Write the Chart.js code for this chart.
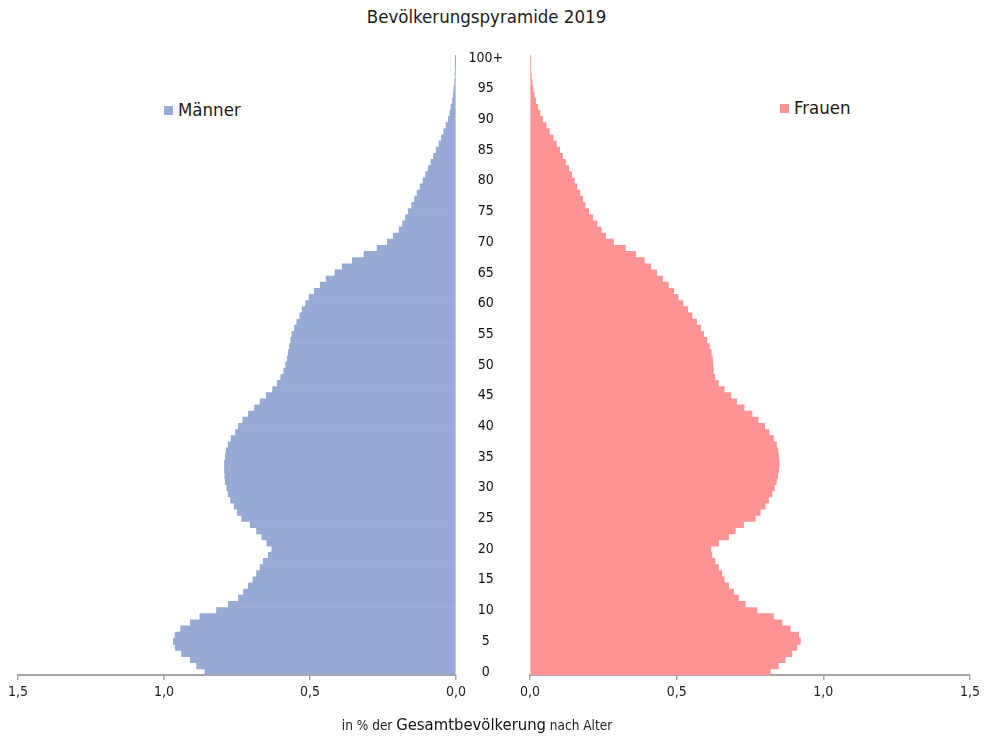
<!DOCTYPE html>
<html>
<head>
<meta charset="utf-8">
<script src="https://cdn.jsdelivr.net/npm/chart.js@4.4.1/dist/chart.umd.min.js"></script>
<style>
  html, body { margin: 0; padding: 0; background: #ffffff; }
  body { width: 985px; height: 739px; position: relative; overflow: hidden; font-family: "DejaVu Sans Condensed", "DejaVu Sans", sans-serif; color: #1a1a1a; }
  canvas { position: absolute; top: 0; }
  #cL { left: 0; }
  #cR { left: 456px; }
  .title { position: absolute; top: 6px; left: 0; width: 973px; text-align: center; font-size: 18.5px; }
  .leg { position: absolute; font-size: 18.5px; line-height: 22px; }
  .leg i { display: inline-block; width: 9px; height: 9px; margin-right: 5px; vertical-align: 1px; }
  .xt { position: absolute; top: 715px; left: 0; width: 954px; text-align: center; font-size: 13.5px; color: #222; }
  .xt b { font-weight: normal; font-size: 16.5px; color: #111; }
</style>
</head>
<body>
<div class="title">Bevölkerungspyramide 2019</div>
<div class="leg" id="legM" style="left:164px; top:99px;"><i style="background:#97A9D5"></i>Männer</div>
<div class="leg" id="legF" style="left:780px; top:97px;"><i style="background:#FF9393"></i>Frauen</div>
<canvas id="cL" width="470" height="739"></canvas>
<canvas id="cR" width="529" height="739"></canvas>
<div class="xt">in % der <b>Gesamtbevölkerung</b> nach Alter</div>
<script>
const ages = [];
for (let a = 0; a < 100; a++) ages.push(String(a));
ages.push("100+");

const xTicks = [0, 0.5, 1.0, 1.5];

const maenner = [
  0.860, 0.888, 0.910, 0.940, 0.962, 0.968, 0.962, 0.943, 0.910, 0.877,
  0.820, 0.780, 0.745, 0.728, 0.711, 0.695, 0.683, 0.671, 0.660, 0.643,
  0.631, 0.648, 0.665, 0.683, 0.705, 0.734, 0.749, 0.760, 0.772, 0.780,
  0.785, 0.790, 0.792, 0.793, 0.793, 0.790, 0.787, 0.780, 0.770, 0.755,
  0.745, 0.730, 0.711, 0.690, 0.671, 0.650, 0.628, 0.612, 0.600, 0.590,
  0.583, 0.578, 0.574, 0.570, 0.566, 0.562, 0.553, 0.545, 0.535, 0.527,
  0.515, 0.503, 0.485, 0.465, 0.445, 0.415, 0.390, 0.355, 0.315, 0.270,
  0.235, 0.215, 0.195, 0.183, 0.173, 0.163, 0.152, 0.142, 0.133, 0.123,
  0.113, 0.104, 0.095, 0.086, 0.077, 0.068, 0.058, 0.050, 0.042, 0.034,
  0.026, 0.021, 0.017, 0.012, 0.009, 0.007, 0.005, 0.003, 0.002, 0.0015,
  0.001
];

const frauen = [
  0.819, 0.847, 0.870, 0.893, 0.910, 0.922, 0.916, 0.887, 0.859, 0.830,
  0.774, 0.734, 0.711, 0.694, 0.677, 0.662, 0.654, 0.643, 0.631, 0.620,
  0.617, 0.643, 0.677, 0.700, 0.728, 0.768, 0.785, 0.802, 0.813, 0.825,
  0.833, 0.840, 0.844, 0.848, 0.850, 0.848, 0.845, 0.840, 0.830, 0.815,
  0.800, 0.778, 0.757, 0.730, 0.705, 0.685, 0.662, 0.642, 0.630, 0.625,
  0.624, 0.622, 0.618, 0.612, 0.603, 0.592, 0.582, 0.568, 0.552, 0.538,
  0.522, 0.505, 0.490, 0.472, 0.452, 0.432, 0.412, 0.390, 0.360, 0.325,
  0.285, 0.258, 0.243, 0.228, 0.214, 0.200, 0.188, 0.180, 0.170, 0.160,
  0.151, 0.142, 0.132, 0.121, 0.111, 0.101, 0.090, 0.079, 0.066, 0.055,
  0.043, 0.034, 0.026, 0.019, 0.014, 0.010, 0.007, 0.005, 0.003, 0.002,
  0.002
];

const FONT = "'DejaVu Sans Condensed', 'DejaVu Sans', sans-serif";
const AXIS = '#A6A6A6';

function fmt(v) { return Number(v).toFixed(1).replace('.', ','); }

function xScale(reverse) {
  return {
    type: 'linear',
    reverse: reverse,
    min: 0, max: 1.5,
    z: 1,
    afterBuildTicks: s => { s.ticks = xTicks.map(v => ({ value: v })); },
    afterFit: s => { s.height = 64; },
    ticks: { callback: v => fmt(v), color: '#222', font: { family: FONT, size: 14 }, padding: 4, maxRotation: 0 },
    grid: { display: true, drawOnChartArea: false, drawTicks: true, tickLength: 5, color: AXIS, lineWidth: 1.5 },
    border: { display: true, color: AXIS, width: 2 }
  };
}

const common = {
  responsive: false,
  animation: false,
  devicePixelRatio: 1,
  indexAxis: 'y',
  plugins: { legend: { display: false }, tooltip: { enabled: false }, title: { display: false } }
};

new Chart(document.getElementById('cL'), {
  type: 'bar',
  data: { labels: ages, datasets: [{ label: 'Männer', data: maenner, backgroundColor: '#97A9D5', borderWidth: 0, barPercentage: 1, categoryPercentage: 1 }] },
  options: Object.assign({}, common, {
    layout: { padding: { left: 18, right: 14, top: 55, bottom: 0 } },
    scales: {
      x: xScale(true),
      y: { type: 'category', reverse: true, display: false }
    }
  })
});

new Chart(document.getElementById('cR'), {
  type: 'bar',
  data: { labels: ages, datasets: [{ label: 'Frauen', data: frauen, backgroundColor: '#FF9393', borderWidth: 0, barPercentage: 1, categoryPercentage: 1 }] },
  options: Object.assign({}, common, {
    layout: { padding: { left: 0, right: 15, top: 55, bottom: 0 } },
    scales: {
      x: xScale(false),
      y: {
        type: 'category', reverse: true, position: 'left',
        afterFit: s => { s.width = 74; },
        grid: { display: false, drawTicks: false },
        border: { display: false },
        ticks: {
          autoSkip: false, crossAlign: 'center', padding: 27,
          color: '#111', font: { family: FONT, size: 14 },
          callback: function(v, i) { return (i % 5 === 0) ? ages[i] : ''; }
        }
      }
    }
  })
});
</script>
</body>
</html>
